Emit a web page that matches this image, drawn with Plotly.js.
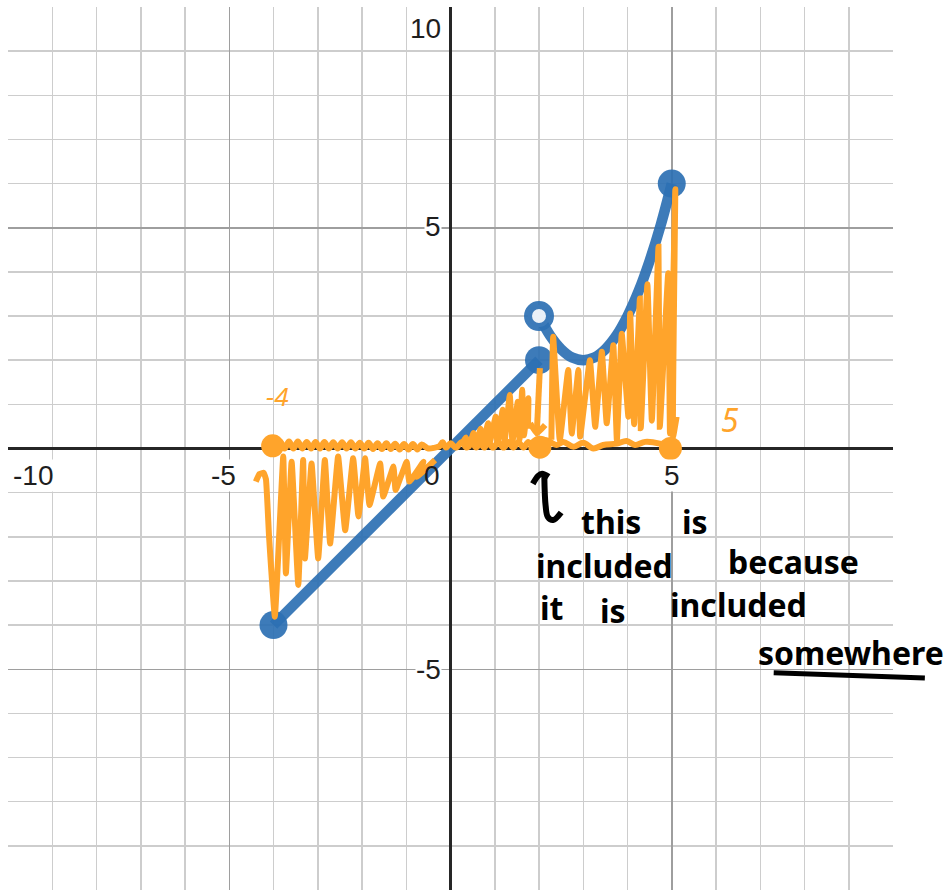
<!DOCTYPE html>
<html>
<head>
<meta charset="utf-8">
<script src="https://cdn.plot.ly/plotly-3.0.1.min.js"></script>
<style>html,body{margin:0;padding:0;background:#fff;}#chart{width:946px;height:890px;}</style>
</head>
<body>
<div id="chart"></div>
<script>
// ---- Blue function (piecewise) ----
const lineX = [-4, 2];
const lineY = [-4, 2];
const curveX = [2, 2.25, 2.5, 2.75, 3, 3.25, 3.5, 3.75, 4, 4.25, 4.5, 4.75, 5];
const curveY = [3, 2.56, 2.25, 2.06, 2, 2.06, 2.25, 2.56, 3, 3.56, 4.25, 5.06, 6];
const closedX = [-4, 2, 5];
const closedY = [-4, 2, 6];
const openX = [2];
const openY = [3];

// ---- Orange hand-drawn annotations ----
const dotsX = [-4.02, 2.02, 4.97];
const dotsY = [0.06, 0.03, 0.0];
const waveX = [-3.95,-3.85,-3.75,-3.65,-3.55,-3.45,-3.35,-3.25,-3.15,-3.05,-2.95,-2.85,-2.75,-2.65,-2.55,-2.45,-2.35,-2.25,-2.15,-2.05,-1.95,-1.85,-1.75,-1.65,-1.55,-1.45,-1.35,-1.25,-1.15,-1.05,-0.95,-0.85,-0.75,-0.65,-0.5,-0.35,-0.25,-0.18,-0.1,0.0,0.12,0.25,0.37,0.48,0.58,0.67,0.76,0.85,0.96,1.08,1.2,1.31,1.42,1.53,1.65,1.76,1.88,2.0,2.14,2.4,2.55,2.78,3.0,3.23,3.45,3.76,3.98,4.17,4.4,4.73,4.95];
const waveY = [0.05,0.16,0.0,0.16,0.0,0.16,0.0,0.15,0.0,0.15,0.0,0.15,0.0,0.14,0.0,0.14,0.0,0.14,0.0,0.13,0.0,0.13,-0.01,0.12,-0.01,0.12,-0.01,0.11,-0.02,0.1,-0.02,0.1,-0.02,0.09,0.0,0.02,0.05,0.14,0.02,0.12,0.02,0.14,0.02,0.14,0.02,0.14,0.02,0.14,0.02,0.14,0.02,0.15,0.02,0.15,0.02,0.15,0.04,0.06,0.19,0.08,0.15,0.04,0.13,0.0,0.08,0.11,0.17,0.08,0.15,0.11,0.03];
const leftZigX = [-4.40,-4.32,-4.22,-4.17,-4.10,-3.97,-3.78,-3.72,-3.59,-3.44,-3.33,-3.29,-3.14,-2.99,-2.84,-2.72,-2.54,-2.38,-2.20,-2.08,-1.93,-1.83,-1.59,-1.52,-1.29,-1.24,-0.99,-0.93,-0.61,-0.76,-0.35];
const leftZigY = [-0.75,-0.58,-0.55,-0.70,-2.00,-3.81,-0.18,-2.83,-0.30,-3.09,-0.26,-2.49,-0.34,-2.49,-0.26,-2.15,-0.18,-1.85,-0.22,-1.54,-0.22,-1.28,-0.34,-1.09,-0.41,-0.94,-0.30,-0.75,-0.30,-0.64,-0.26];
const midZigX = [0.25,0.35,0.42,0.52,0.58,0.68,0.72,0.85,0.88,1.02,1.06,1.18,1.22,1.34,1.40,1.52,1.56,1.62,1.66,1.76,1.75,null,2.02,1.95,null,1.80,1.95,2.14];
const midZigY = [0.08,0.25,0.05,0.35,0.08,0.45,0.10,0.57,0.10,0.72,0.12,0.88,0.15,1.21,0.15,1.06,0.20,1.33,0.30,1.14,0.45,null,1.82,0.35,null,0.57,0.34,0.53];
const rightZigX = [2.28,2.32,2.47,2.66,2.74,2.89,2.93,3.15,3.27,3.42,3.53,3.68,3.76,3.87,4.02,4.06,4.15,4.28,4.30,4.45,4.55,4.70,4.73,4.92,4.96,5.08,5.03,5.11];
const rightZigY = [0.20,2.53,0.19,1.78,0.34,1.78,0.27,2.00,0.49,2.19,0.57,2.34,0.19,2.60,0.72,3.06,0.55,3.40,0.46,3.72,0.63,4.57,0.49,3.97,0.34,5.87,0.27,0.72];

// ---- Black handwriting ----
const noteArrowX = [1.86,1.98,2.07,2.22,null,2.12,2.15,2.20,2.32,2.50];
const noteArrowY = [-0.80,-0.62,-0.57,-0.64,null,-0.62,-1.30,-1.55,-1.62,-1.45];
const noteWords = ['this','is','included','because','it','is','included','somewhere'];
const noteX = [3.63,5.53,3.47,7.74,2.29,3.67,6.50,9.05];
const noteY = [-1.66,-1.66,-2.64,-2.57,-3.59,-3.66,-3.54,-4.61];
const underlineX = [7.27,10.72];
const underlineY = [-5.08,-5.20];
const orangeLabels = ['-4','5'];
const orangeLabelX = [-3.92,6.32];
const orangeLabelY = [1.19,0.65];

// ---- Axis tick labels ----
const xTickVals = [-10,-5,0,5];
const xTickText = ['-10','-5','0','5'];
const yTickVals = [10,5,-5];
const yTickText = ['10','5','-5'];

const BLUE = 'rgba(45,112,179,0.92)';
const ORANGE = '#ffa42b';
const OW = 6;

const traces = [
  {x: lineX, y: lineY, mode: 'lines', line: {color: BLUE, width: 10.5}, hoverinfo: 'skip'},
  {x: curveX, y: curveY, mode: 'lines', line: {color: BLUE, width: 10.5, shape: 'spline'}, hoverinfo: 'skip'},
  {x: closedX, y: closedY, mode: 'markers', marker: {color: BLUE, size: 28}, hoverinfo: 'skip'},
  {x: openX, y: openY, mode: 'markers', marker: {color: 'rgb(234,240,247)', size: 22, line: {color: BLUE, width: 8}}, hoverinfo: 'skip'},
  {x: waveX, y: waveY, mode: 'lines', line: {color: ORANGE, width: OW, shape: 'spline'}, hoverinfo: 'skip'},
  {x: leftZigX, y: leftZigY, mode: 'lines', line: {color: ORANGE, width: OW, shape: 'spline', smoothing: 0.3}, hoverinfo: 'skip'},
  {x: midZigX, y: midZigY, mode: 'lines', line: {color: ORANGE, width: OW, shape: 'spline', smoothing: 0.3}, hoverinfo: 'skip'},
  {x: rightZigX, y: rightZigY, mode: 'lines', line: {color: ORANGE, width: OW, shape: 'spline', smoothing: 0.3}, hoverinfo: 'skip'},
  {x: dotsX, y: dotsY, mode: 'markers', marker: {color: ORANGE, size: 23}, hoverinfo: 'skip'},
  {x: noteArrowX, y: noteArrowY, mode: 'lines', line: {color: '#000', width: 6, shape: 'spline'}, hoverinfo: 'skip'}
];

const annotations = [];
const tickFont = {family: 'Liberation Sans, Arial, sans-serif', size: 28, color: '#1e1e1e'};
const xShift = {'-10': 4, '-5': -6, '0': -19, '5': 0};
xTickVals.forEach((v, i) => {
  annotations.push({
    x: v, y: 0, xref: 'x', yref: 'y', text: xTickText[i], showarrow: false,
    font: tickFont, xanchor: xTickText[i] === '-10' ? 'left' : 'center', yanchor: 'middle',
    xshift: xShift[xTickText[i]], yshift: -27,
    bgcolor: xTickText[i] === '0' ? 'rgba(0,0,0,0)' : '#ffffff', borderpad: 0
  });
});
const yShift = {'10': -21, '5': 1, '-5': 0};
yTickVals.forEach((v, i) => {
  annotations.push({
    x: 0, y: v, xref: 'x', yref: 'y', text: yTickText[i], showarrow: false,
    font: tickFont, xanchor: 'right', yanchor: 'middle',
    xshift: -9, yshift: yShift[yTickText[i]], bgcolor: '#ffffff', borderpad: 0
  });
});
noteWords.forEach((w, i) => {
  annotations.push({
    x: noteX[i], y: noteY[i], xref: 'x', yref: 'y', text: '<b>' + w + '</b>', showarrow: false,
    font: {family: 'Noto Sans, sans-serif', size: 32, color: '#000'},
    xanchor: 'center', yanchor: 'middle'
  });
});
orangeLabels.forEach((t, i) => {
  annotations.push({
    x: orangeLabelX[i], y: orangeLabelY[i], xref: 'x', yref: 'y', text: '<i>' + t + '</i>', showarrow: false,
    font: {family: 'Noto Sans, sans-serif', size: i === 0 ? 26 : 32, color: ORANGE},
    xanchor: 'center', yanchor: 'middle'
  });
});
// underline of "somewhere" (extends past the plot area, so drawn as an annotation arrow)
annotations.push({
  x: underlineX[1], y: underlineY[1], ax: underlineX[0], ay: underlineY[0],
  xref: 'x', yref: 'y', axref: 'x', ayref: 'y', text: ' ', font: {size: 1},
  showarrow: true, arrowhead: 0, arrowwidth: 5, arrowcolor: '#000', standoff: 0, startstandoff: 0
});

const axisCommon = {
  range: [-10, 10], dtick: 5, tick0: 0, showgrid: true, gridcolor: '#9e9e9e', gridwidth: 1.5,
  minor: {dtick: 1, showgrid: true, gridcolor: '#cdcdcd', gridwidth: 1.5},
  zeroline: true, zerolinecolor: '#262626', zerolinewidth: 3,
  showticklabels: false, ticks: '', showline: false, fixedrange: true
};

const layout = {
  width: 946, height: 890,
  margin: {l: 8, r: 53, t: 7, b: 0, pad: 0},
  paper_bgcolor: '#ffffff', plot_bgcolor: '#ffffff',
  showlegend: false,
  xaxis: Object.assign({}, axisCommon),
  yaxis: Object.assign({}, axisCommon),
  annotations: annotations
};

Plotly.newPlot('chart', traces, layout, {displayModeBar: false, staticPlot: true});
</script>
</body>
</html>
